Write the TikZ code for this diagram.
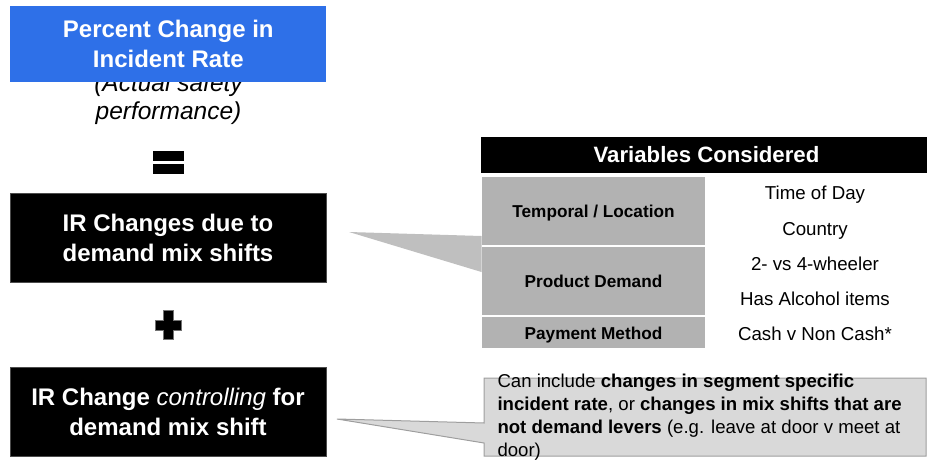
\documentclass[tikz,border=0pt]{standalone}
\usepackage{fontspec}
\setmainfont{Liberation Sans}

\newlength{\du}
\setlength{\du}{10\unitlength}

\tikzset{
  bigbox/.style={minimum width=31.6\du, inner sep=0pt, align=center, text=white,
    font=\bfseries\fontsize{24}{30}\selectfont},
  headtext/.style={text=white, font=\bfseries\fontsize{22.2}{25}\selectfont},
  celltext/.style={minimum width=22.3\du, inner sep=0pt, text height=1.5\du, text depth=0.2\du,
    font=\bfseries\fontsize{17.2}{20}\selectfont},
  valtext/.style={font=\fontsize{18.7}{22}\selectfont},
  notetext/.style={anchor=west, inner sep=0pt, align=left, font=\fontsize{18.6}{23}\selectfont},
}

\begin{document}
\begin{tikzpicture}
\pgftransformxscale{1.000000}
\pgftransformyscale{-1.000000}
\useasboundingbox (0\du,0\du) rectangle (92.700000\du,46.000000\du);
\pgfsetlinewidth{0.100000\du}
% text under the title box
\node[align=center, font=\itshape\fontsize{24.5}{28}\selectfont] (actual) at (16.850000\du,9.900000\du){(Actual safety\\performance)};
\definecolor{dialinecolor}{rgb}{0.180000, 0.440000, 0.910000}
\node[bigbox, fill=dialinecolor, minimum height=7.600000\du] (pct) at (16.830000\du,4.420000\du){Percent Change in\\Incident Rate};
% equals sign
\definecolor{dialinecolor}{rgb}{0.000000, 0.000000, 0.000000}
\pgfsetfillcolor{dialinecolor}
\fill (15.250000\du,15.070000\du)--(18.400000\du,15.070000\du)--(18.400000\du,16.070000\du)--(15.250000\du,16.070000\du)--cycle;
\fill (15.250000\du,16.400000\du)--(18.400000\du,16.400000\du)--(18.400000\du,17.400000\du)--(15.250000\du,17.400000\du)--cycle;
\node[bigbox, fill=black, draw=black!70, minimum height=8.900000\du] (demand) at (16.800000\du,23.800000\du){IR Changes due to\\demand mix shifts};
% plus sign
\filldraw[draw=black!55] (16.330000\du,31.000000\du)--(17.330000\du,31.000000\du)--(17.330000\du,32.000000\du)--(18.170000\du,32.000000\du)--(18.170000\du,33.000000\du)--(17.330000\du,33.000000\du)--(17.330000\du,33.900000\du)--(16.330000\du,33.900000\du)--(16.330000\du,33.000000\du)--(15.500000\du,33.000000\du)--(15.500000\du,32.000000\du)--(16.330000\du,32.000000\du)--cycle;
\node[bigbox, fill=black, draw=black!70, minimum height=8.900000\du] (control) at (16.800000\du,41.150000\du){IR Change \textit{\mdseries controlling} for\\demand mix shift};

% table
\node[headtext, fill=black, minimum width=44.600000\du, minimum height=3.600000\du, inner sep=0pt] (head) at (70.400000\du,15.500000\du){\hspace{0.5\du}Variables Considered};
\definecolor{dialinecolor}{rgb}{0.700000, 0.700000, 0.700000}
\node[celltext, fill=dialinecolor, minimum height=6.800000\du] (tcell) at (59.350000\du,21.100000\du){Temporal / Location};
\node[celltext, fill=dialinecolor, minimum height=6.800000\du] (pcell) at (59.350000\du,28.100000\du){Product Demand};
\node[celltext, fill=dialinecolor, minimum height=3.100000\du] (mcell) at (59.350000\du,33.250000\du){Payment Method};
\node[valtext] (vtime) at (81.500000\du,19.500000\du){Time of Day};
\node[valtext] (vcountry) at (81.500000\du,23.100000\du){Country};
\node[valtext] (vwheel) at (81.500000\du,26.400000\du){2- vs 4-wheeler};
\node[valtext] (valcohol) at (81.500000\du,29.900000\du){Has Alcohol items};
\node[valtext] (vcash) at (81.500000\du,33.400000\du){Cash v Non Cash*};
% callout to the table
\coordinate (tipa) at (34.900000\du,23.200000\du);
\definecolor{dialinecolor}{rgb}{0.750000, 0.750000, 0.750000}
\pgfsetfillcolor{dialinecolor}
\fill (tipa)--(tcell.west |- 0,23.600000\du)--(pcell.west |- 0,27.200000\du)--cycle;

% note
\coordinate (tipb) at (33.700000\du,41.900000\du);
\definecolor{dialinecolor}{rgb}{0.850000, 0.850000, 0.850000}
\pgfsetfillcolor{dialinecolor}
\definecolor{dialinecolor}{rgb}{0.620000, 0.620000, 0.620000}
\pgfsetstrokecolor{dialinecolor}
\filldraw (48.400000\du,37.800000\du)--(92.600000\du,37.800000\du)--(92.600000\du,45.600000\du)--(48.400000\du,45.600000\du)--(48.400000\du,44.300000\du)--(tipb)--(48.400000\du,42.300000\du)--cycle;
% setfont left to latex
\node[notetext] (note) at (49.700000\du,41.750000\du){Can include \textbf{changes in segment specific}\\\textbf{incident rate}, or \textbf{changes in mix shifts that are}\\\textbf{not demand levers} (e.g. leave at door v meet at\\door)};
\end{tikzpicture}
\end{document}
